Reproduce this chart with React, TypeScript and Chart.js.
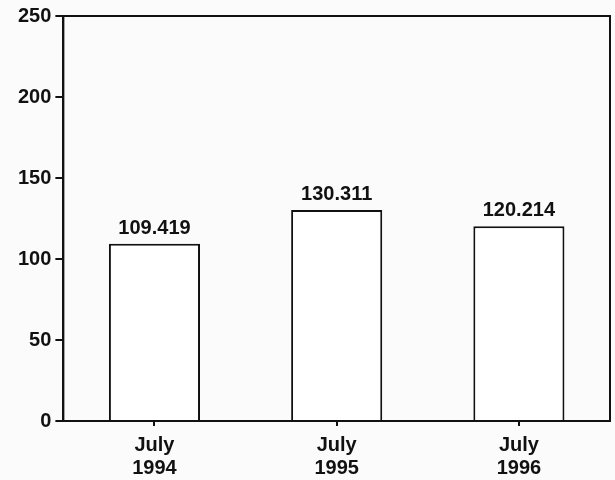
import React, { useEffect, useRef } from "react";
import { Chart, registerables } from "chart.js";

Chart.register(...registerables);

const months = ["July", "July", "July"];
const years = ["1994", "1995", "1996"];
const values = [109.419, 130.311, 120.214];
const yTicks = [0, 50, 100, 150, 200, 250];

const FONT = "'Liberation Sans', Arial, sans-serif";

const frameAndLabels = {
  id: "frameAndLabels",
  afterDatasetsDraw(chart: any) {
    const { ctx, chartArea } = chart;
    ctx.save();
    ctx.strokeStyle = "#111";
    ctx.lineWidth = 2;
    ctx.strokeRect(chartArea.left, chartArea.top, chartArea.right - chartArea.left, chartArea.bottom - chartArea.top);
    const meta = chart.getDatasetMeta(0);
    ctx.fillStyle = "#111";
    ctx.font = "bold 20px " + FONT;
    ctx.textAlign = "center";
    ctx.textBaseline = "alphabetic";
    meta.data.forEach((bar: any, i: number) => {
      ctx.fillText(values[i].toFixed(3), bar.x, bar.y - 10);
    });
    ctx.restore();
  },
};

export default function App() {
  const ref = useRef<HTMLCanvasElement>(null);
  useEffect(() => {
    const chart = new Chart(ref.current!, {
      type: "bar",
      data: {
        labels: months.map((m, i) => [m, years[i]]),
        datasets: [
          {
            data: values,
            backgroundColor: "#ffffff",
            borderColor: "#111",
            borderWidth: 2,
            barPercentage: 0.5,
            categoryPercentage: 1,
          },
        ],
      },
      options: {
        animation: false,
        responsive: false,
        maintainAspectRatio: false,
        layout: { padding: { top: 2, right: 5, left: 14, bottom: 0 } },
        plugins: { legend: { display: false }, tooltip: { enabled: false } },
        scales: {
          x: {
            afterFit: (scale: any) => {
              scale.height = 59;
            },
            grid: { display: true, drawOnChartArea: false, offset: false, tickLength: 5, color: "#111", lineWidth: 2 },
            border: { display: true, color: "#111", width: 2 },
            ticks: { color: "#111", font: { family: FONT, size: 20, weight: "bold", lineHeight: 1.15 }, padding: 8, maxRotation: 0 },
          },
          y: {
            min: 0,
            max: 250,
            afterBuildTicks: (axis: any) => {
              axis.ticks = yTicks.map((v) => ({ value: v }));
            },
            grid: { display: true, drawOnChartArea: false, tickLength: 8, color: "#111", lineWidth: 2 },
            border: { display: true, color: "#111", width: 2 },
            ticks: { color: "#111", font: { family: FONT, size: 20, weight: "bold" }, padding: 4 },
          },
        },
      },
      plugins: [frameAndLabels],
    });
    return () => chart.destroy();
  }, []);
  return (
    <div style={{ position: "fixed", left: 0, top: 0, width: 615, height: 480, background: "#fbfbfb" }}>
      <canvas ref={ref} width={615} height={480} />
    </div>
  );
}
